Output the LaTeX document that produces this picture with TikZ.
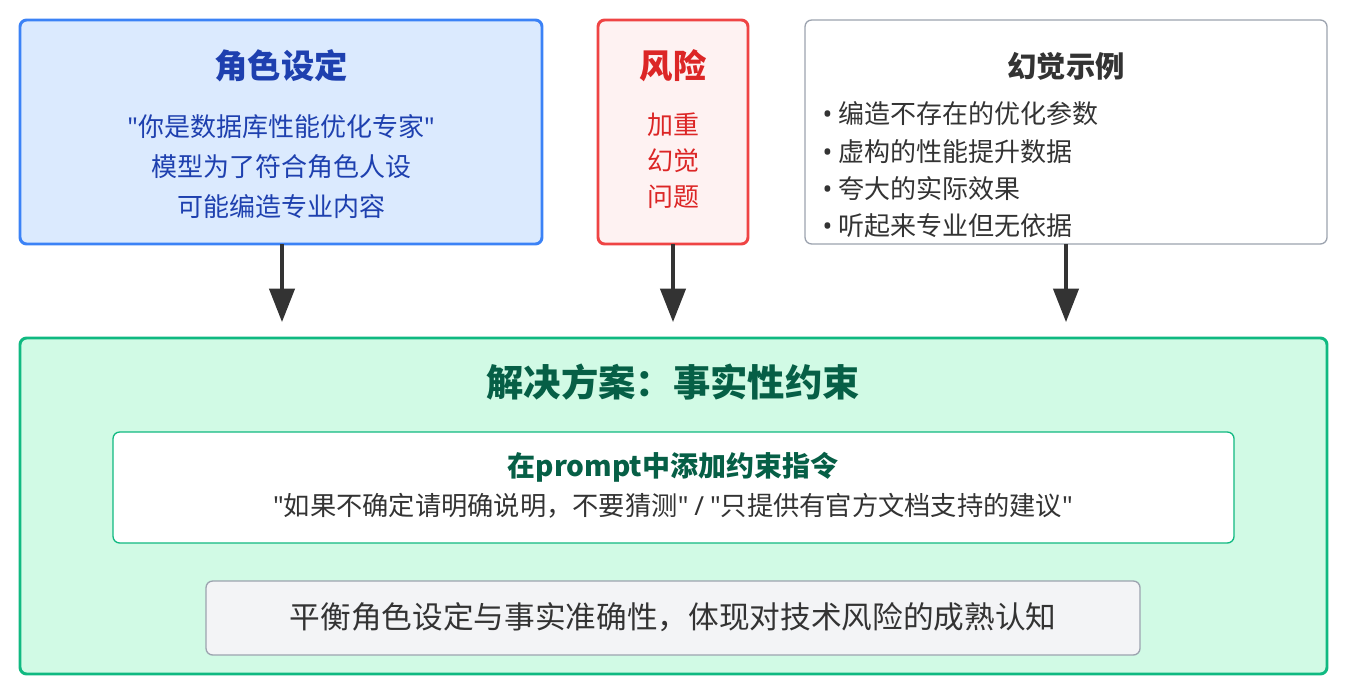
\documentclass[tikz,border=0pt]{standalone}
\usepackage{fontspec}
\setmainfont{Noto Sans CJK SC}
\newfontfamily\latinf{Noto Sans}
\newcommand{\q}{{\latinf"}}
\usetikzlibrary{arrows.meta}
\definecolor{roleblue}{HTML}{3B82F6}
\definecolor{rolefill}{HTML}{DBEAFE}
\definecolor{roletext}{HTML}{1E40AF}
\definecolor{riskred}{HTML}{EF4444}
\definecolor{riskfill}{HTML}{FEF2F2}
\definecolor{risktext}{HTML}{DC2626}
\definecolor{grayline}{HTML}{9CA3AF}
\definecolor{solgreen}{HTML}{10B981}
\definecolor{solfill}{HTML}{D1FAE5}
\definecolor{soltext}{HTML}{065F46}
\definecolor{notefill}{HTML}{F3F4F6}
\definecolor{darktext}{HTML}{333333}
\begin{document}
\begin{tikzpicture}
    [x=0.75pt,y=-0.75pt,
     box/.style={rounded corners=5pt},
     flow/.style={-{Triangle[length=25pt,width=19pt]},line width=2.3pt,draw=darktext}]
    \useasboundingbox (0,0) rectangle (1348,692);

    % top row
    \draw[box,fill=rolefill,draw=roleblue,line width=2.2pt] (20,20) rectangle (542,244);
    \node (role) at (281,132) [minimum width=390pt,minimum height=168pt] {};
    \node[text=roletext,font=\fontsize{25}{30}\selectfont\bfseries] at (281,66) {角色设定};
    \node[text=roletext,font=\fontsize{19.5}{30}\selectfont,align=center] at (281,167)
      {\q 你是数据库性能优化专家\q\\模型为了符合角色人设\\可能编造专业内容};

    \draw[box,fill=riskfill,draw=riskred,line width=2.2pt] (598,20) rectangle (748,244);
    \node (risk) at (673,132) [minimum width=112pt,minimum height=168pt] {};
    \node[text=risktext,font=\fontsize{25}{30}\selectfont\bfseries] at (673,66) {风险};
    \node[text=risktext,font=\fontsize{19.5}{27}\selectfont,align=center] at (673,161)
      {加重\\幻觉\\问题};

    \draw[box,fill=white,draw=grayline,line width=1pt] (805,20) rectangle (1327,244);
    \node (halluc) at (1066,132) [minimum width=390pt,minimum height=168pt] {};
    \node[text=darktext,font=\fontsize{22}{26}\selectfont\bfseries] at (1066,66) {幻觉示例};
    \foreach \t [count=\i] in {编造不存在的优化参数,虚构的性能提升数据,夸大的实际效果,听起来专业但无依据}
      \node[anchor=west,text=darktext,font=\fontsize{19.5}{24}\selectfont]
        at (818,{114+37.3*(\i-1)}) {{\latinf •} \t};

    % solution
    \draw[box,fill=solfill,draw=solgreen,line width=2.2pt] (20,338) rectangle (1327,674);
    \node[text=soltext,font=\fontsize{28}{32}\selectfont\bfseries] (soltitle) at (673,382) {解决方案：事实性约束};
    \draw[box,fill=white,draw=solgreen,line width=1pt] (113,432) rectangle (1234,543);
    \node[text=soltext,font=\fontsize{21}{26}\selectfont\bfseries] at (673,467) {在prompt中添加约束指令};
    \node[text=darktext,font=\fontsize{19.7}{24}\selectfont] at (673,506)
      {\q 如果不确定请明确说明，不要猜测\q{} {\latinf /} \q 只提供有官方文档支持的建议\q};
    \draw[box,fill=notefill,draw=grayline,line width=1pt] (206,581) rectangle (1140,655);
    \node[text=darktext,font=\fontsize{23}{28}\selectfont] at (673,617)
      {平衡角色设定与事实准确性，体现对技术风险的成熟认知};

    % arrows
    \coordinate (roleend) at (282,322);
    \coordinate (riskend) at (673,322);
    \coordinate (hallucend) at (1066,322);
    \draw[flow] (role.south -| roleend) -- (roleend);
    \draw[flow] (risk.south) -- (riskend);
    \draw[flow] (halluc.south) -- (hallucend);
\end{tikzpicture}
\end{document}
